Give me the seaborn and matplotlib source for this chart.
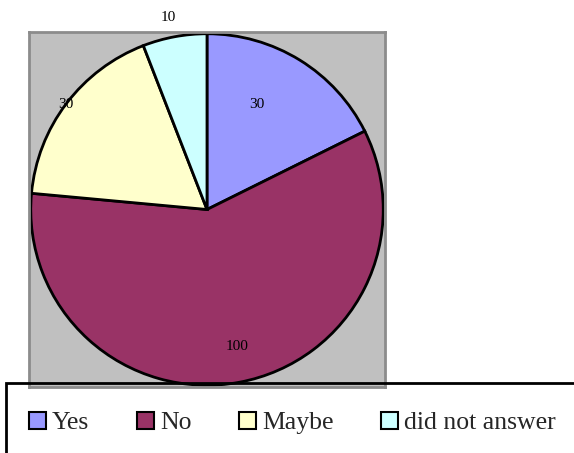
import matplotlib
matplotlib.use("Agg")
import matplotlib.pyplot as plt
from matplotlib.patches import Patch, Rectangle
import seaborn as sns

# Survey answers
categories = ["Yes", "No", "Maybe", "did not answer"]
counts = [30, 100, 30, 10]
slice_colors = ["#9999FF", "#993366", "#FFFFCC", "#CCFFFF"]

# Where each count label sits, in pie units (radius = 1)
label_xy = [(0.28, 0.60), (0.17, -0.78), (-0.80, 0.60), (-0.22, 1.09)]

sns.set_style("white")
plt.rcParams["font.family"] = ["Liberation Serif", "DejaVu Serif"]

W, H = 574, 453
fig = plt.figure(figsize=(W / 100, H / 100), dpi=100)

# Grey plot area holding the pie
left, top, right, bottom = 29, 32, 385, 387
ax = fig.add_axes([left / W, 1 - bottom / H, (right - left) / W, (bottom - top) / H])

palette = sns.color_palette(slice_colors)
ax.pie(counts, colors=palette, startangle=90, counterclock=False,
       radius=1.0, wedgeprops=dict(edgecolor="black", linewidth=2))
ax.set_xlim(-1.01, 1.01)
ax.set_ylim(-1.01, 1.01)
ax.set_aspect("auto")

ax.set_frame_on(True)
ax.set_facecolor("#C0C0C0")
ax.set_xticks([])
ax.set_yticks([])
for s in ax.spines.values():
    s.set_visible(True)
    s.set_color("#8C8C8C")
    s.set_linewidth(2)

for (x, y), v in zip(label_xy, counts):
    ax.text(x, y, str(v), ha="center", va="center", fontsize=11,
            color="black", clip_on=False)

# Legend box, running off the right and bottom edges
frame = Rectangle((6 / W, -0.1), 1.2, 1 - 383 / H + 0.1, transform=fig.transFigure,
                  fill=False, edgecolor="black", linewidth=2, clip_on=False, zorder=10)
fig.patches.append(frame)

handles = [Patch(facecolor=c, edgecolor="black", linewidth=1.5) for c in palette]
fig.legend(handles, categories, loc="center left",
           bbox_to_anchor=(29 / W, 1 - 423 / H), ncol=4, frameon=False,
           fontsize=18.5, handlelength=0.65, handleheight=0.65,
           handletextpad=0.25, columnspacing=1.85, borderpad=0, borderaxespad=0)

fig.savefig("out.png", dpi=100)
